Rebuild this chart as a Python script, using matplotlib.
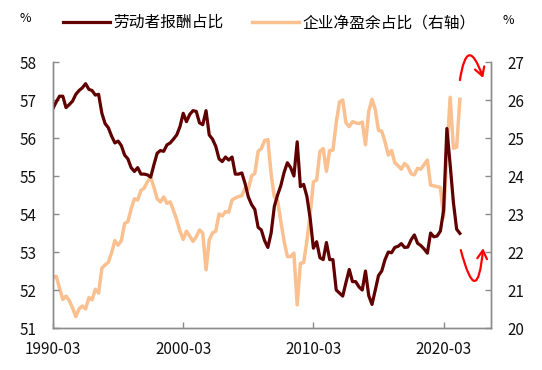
import pandas as pd
import matplotlib
matplotlib.use('Agg')
import matplotlib.pyplot as plt
import matplotlib.dates as mdates

# 数据（季度，1990Q1 - 2021Q2）
dates = pd.date_range('1990-03-31', periods=126, freq='QE')

labor_share = [
    56.78, 56.95, 57.10, 57.10, 56.80, 56.88, 56.97, 57.15, 57.25, 57.32,
    57.43, 57.28, 57.25, 57.13, 57.15, 56.65, 56.38, 56.27, 56.05, 55.87,
    55.92, 55.80, 55.55, 55.45, 55.22, 55.12, 55.22, 55.05, 55.05, 55.03,
    54.97, 55.30, 55.60, 55.67, 55.65, 55.82, 55.87, 55.97, 56.08, 56.30,
    56.65, 56.43, 56.62, 56.72, 56.70, 56.40, 56.35, 56.72, 56.08, 55.97,
    55.78, 55.45, 55.38, 55.50, 55.42, 55.50, 55.05, 55.05, 55.08, 54.80,
    54.45, 54.25, 54.12, 53.65, 53.58, 53.30, 53.12, 53.50, 54.20, 54.50,
    54.75, 55.10, 55.35, 55.22, 55.00, 55.90, 54.72, 54.78, 54.46, 53.88,
    53.10, 53.27, 52.85, 52.80, 53.25, 52.80, 52.80, 52.00, 51.92, 51.84,
    52.20, 52.54, 52.22, 52.22, 52.08, 52.00, 52.50, 51.85, 51.62, 52.00,
    52.38, 52.50, 52.80, 53.00, 52.98, 53.12, 53.15, 53.22, 53.12, 53.13,
    53.32, 53.45, 53.23, 53.17, 53.08, 52.97, 53.50, 53.40, 53.42, 53.55,
    54.10, 56.25, 55.30, 54.30, 53.60, 53.49,
]

surplus_share = [
    21.33, 21.36, 21.05, 20.75, 20.84, 20.72, 20.53, 20.30, 20.50, 20.58,
    20.50, 20.80, 20.74, 21.02, 20.92, 21.57, 21.66, 21.73, 21.98, 22.30,
    22.18, 22.30, 22.75, 22.80, 23.13, 23.40, 23.37, 23.62, 23.68, 23.85,
    23.97, 23.70, 23.40, 23.32, 23.45, 23.28, 23.32, 23.10, 22.85, 22.55,
    22.33, 22.55, 22.42, 22.28, 22.40, 22.58, 22.50, 21.53, 22.32, 22.50,
    22.55, 23.00, 22.95, 23.06, 23.05, 23.37, 23.42, 23.46, 23.48, 23.68,
    23.65, 24.00, 24.07, 24.65, 24.72, 24.93, 24.96, 24.05, 23.45, 23.35,
    22.80, 22.28, 21.88, 21.88, 21.97, 20.61, 21.70, 21.72, 22.30, 23.00,
    23.85, 23.89, 24.65, 24.72, 24.12, 24.67, 24.68, 25.40, 25.95, 26.00,
    25.40, 25.30, 25.43, 25.40, 25.38, 25.42, 24.82, 25.70, 26.02, 25.75,
    25.20, 25.18, 24.90, 24.55, 24.67, 24.35, 24.27, 24.18, 24.33, 24.25,
    24.06, 24.03, 24.20, 24.18, 24.30, 24.42, 23.76, 23.74, 23.72, 23.70,
    22.92, 24.60, 26.07, 24.73, 24.76, 26.02,
]

tick_dates = ['1990-03-31', '2000-03-31', '2010-03-31', '2020-03-31']

plt.rcParams['font.family'] = ['Noto Sans CJK SC', 'DejaVu Sans']

fig = plt.figure(figsize=(5.42, 3.70), dpi=100)
ax = fig.add_axes([0.0978, 0.1135, 0.8081, 0.7189])
ax2 = ax.twinx()
ax.set_zorder(ax2.get_zorder() + 1)
ax.patch.set_visible(False)

l1, = ax.plot(dates, labor_share, color='#600000', lw=2.3, solid_joinstyle='round')
l2, = ax2.plot(dates, surplus_share, color='#FAC090', lw=2.5, solid_joinstyle='round')

ax.set_ylim(51, 58)
ax2.set_ylim(20, 27)
ax.set_yticks(range(51, 59))
ax2.set_yticks(range(20, 28))
ax.set_xlim(pd.Timestamp('1990-03-31'), pd.Timestamp('2023-11-20'))
ax.set_xticks(pd.to_datetime(tick_dates))
ax.xaxis.set_major_formatter(mdates.DateFormatter('%Y-%m'))

for a in (ax, ax2):
    for s in a.spines.values():
        s.set_color('#8c8c8c')
        s.set_linewidth(1.0)
    a.spines['top'].set_visible(False)
    a.tick_params(direction='in', length=4, width=1, color='#8c8c8c',
                  labelsize=11, labelcolor='#111111')
ax.tick_params(axis='y', pad=12)
ax2.tick_params(axis='y', pad=12)
ax.tick_params(axis='x', pad=9)

fig.text(25 / 542, 1 - 19 / 370, '%', fontsize=9, ha='center', va='center')
fig.text(508 / 542, 1 - 20 / 370, '%', fontsize=9, ha='center', va='center')

fig.legend([l1, l2], ['劳动者报酬占比', '企业净盈余占比（右轴）'],
           loc='center', bbox_to_anchor=(0.497, 0.939), ncol=2, frameon=False,
           fontsize=11.3, handlelength=3.0, handletextpad=0.2, columnspacing=1.8)

# 手绘红色箭头
ax.annotate('', xy=(0.982, 0.940), xytext=(0.929, 0.932), xycoords='axes fraction',
            arrowprops=dict(arrowstyle='->,head_length=0.6,head_width=0.35', color='red',
                            lw=1.6, connectionstyle='arc3,rad=-2.0', shrinkA=0, shrinkB=0),
            annotation_clip=False)
ax.annotate('', xy=(0.982, 0.30), xytext=(0.931, 0.293), xycoords='axes fraction',
            arrowprops=dict(arrowstyle='->,head_length=0.6,head_width=0.35', color='red',
                            lw=1.6, connectionstyle='arc3,rad=2.8', shrinkA=0, shrinkB=0),
            annotation_clip=False)

fig.savefig('out.png', dpi=100)
